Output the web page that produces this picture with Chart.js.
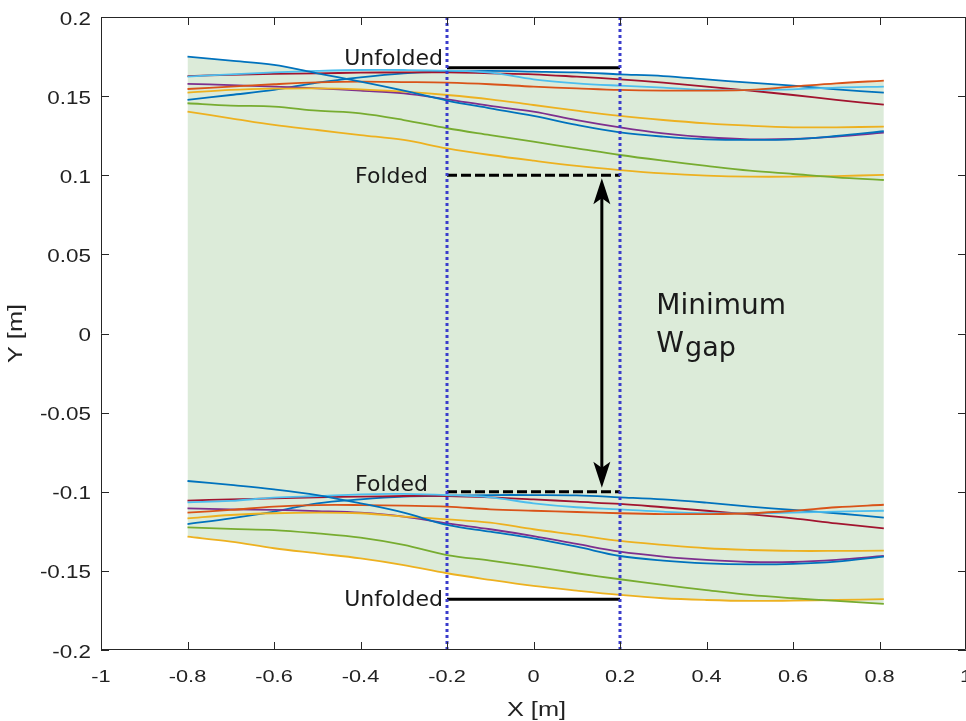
<!DOCTYPE html>
<html>
    <head>
        <title>Minimum Wgap</title>
        <script src="https://cdn.jsdelivr.net/npm/chart.js@4.4.1/dist/chart.umd.min.js"></script>
        <style>
            body { margin: 0; overflow: hidden; background: #fff; }
        </style>
    </head>
    <body>

    <canvas id="gapChart" width="966" height="721"></canvas>

    <script>
        // x positions along the strip, shared by every traced edge
        xPos = [-0.8, -0.7, -0.6, -0.5, -0.4, -0.3, -0.2, -0.1, 0, 0.1, 0.2, 0.3, 0.4, 0.5, 0.6, 0.7, 0.81];

        // upper edges
        topBlueA   = [0.1749, 0.1724, 0.1697, 0.1644, 0.1592, 0.1535, 0.1472, 0.1423, 0.1375, 0.1318, 0.1271, 0.1244, 0.1227, 0.1223, 0.1227, 0.1248, 0.1278];
        topPurple  = [0.1577, 0.1570, 0.1560, 0.1549, 0.1535, 0.1518, 0.1480, 0.1438, 0.1402, 0.1349, 0.1303, 0.1265, 0.1240, 0.1227, 0.1229, 0.1244, 0.1269];
        topBlueB   = [0.1476, 0.1507, 0.1539, 0.1585, 0.1619, 0.1644, 0.1655, 0.1659, 0.1655, 0.1650, 0.1638, 0.1627, 0.1606, 0.1585, 0.1566, 0.1543, 0.1522];
        topCyan    = [0.1623, 0.1638, 0.1650, 0.1659, 0.1665, 0.1665, 0.1661, 0.1648, 0.1606, 0.1581, 0.1566, 0.1554, 0.1539, 0.1539, 0.1543, 0.1554, 0.1560];
        topRed     = [0.1627, 0.1634, 0.1640, 0.1644, 0.1648, 0.1650, 0.1650, 0.1644, 0.1638, 0.1623, 0.1606, 0.1585, 0.1560, 0.1535, 0.1507, 0.1476, 0.1446];
        topOrange  = [0.1545, 0.1560, 0.1575, 0.1587, 0.1592, 0.1589, 0.1585, 0.1575, 0.1560, 0.1549, 0.1539, 0.1535, 0.1535, 0.1539, 0.1560, 0.1581, 0.1598];
        topYellowA = [0.1522, 0.1539, 0.1547, 0.1549, 0.1543, 0.1528, 0.1507, 0.1480, 0.1444, 0.1408, 0.1375, 0.1349, 0.1328, 0.1313, 0.1303, 0.1303, 0.1307];
        topGreen   = [0.1455, 0.1440, 0.1434, 0.1408, 0.1391, 0.1349, 0.1297, 0.1254, 0.1212, 0.1170, 0.1128, 0.1092, 0.1059, 0.1029, 0.1008, 0.0987, 0.0970];
        topYellowB = [0.1402, 0.1360, 0.1318, 0.1286, 0.1254, 0.1223, 0.1170, 0.1128, 0.1092, 0.1059, 0.1033, 0.1012, 0.0998, 0.0991, 0.0991, 0.0995, 0.1002];

        // lower edges
        botBlueA   = [-0.0932, -0.0957, -0.0985, -0.1021, -0.1073, -0.1132, -0.1210, -0.1252, -0.1294, -0.1347, -0.1406, -0.1435, -0.1452, -0.1459, -0.1456, -0.1442, -0.1410];
        botPurple  = [-0.1105, -0.1111, -0.1115, -0.1122, -0.1132, -0.1157, -0.1200, -0.1237, -0.1280, -0.1330, -0.1379, -0.1410, -0.1431, -0.1444, -0.1444, -0.1431, -0.1406];
        botBlueB   = [-0.1204, -0.1168, -0.1126, -0.1073, -0.1048, -0.1031, -0.1025, -0.1021, -0.1021, -0.1023, -0.1035, -0.1048, -0.1069, -0.1094, -0.1115, -0.1136, -0.1164];
        botCyan    = [-0.1067, -0.1058, -0.1037, -0.1027, -0.1016, -0.1014, -0.1021, -0.1035, -0.1073, -0.1098, -0.1111, -0.1126, -0.1136, -0.1136, -0.1132, -0.1126, -0.1120];
        botRed     = [-0.1056, -0.1048, -0.1042, -0.1035, -0.1031, -0.1027, -0.1027, -0.1035, -0.1048, -0.1063, -0.1077, -0.1098, -0.1120, -0.1143, -0.1168, -0.1200, -0.1231];
        botOrange  = [-0.1132, -0.1115, -0.1094, -0.1084, -0.1084, -0.1088, -0.1094, -0.1111, -0.1120, -0.1128, -0.1136, -0.1141, -0.1141, -0.1136, -0.1120, -0.1098, -0.1082];
        botYellowA = [-0.1168, -0.1147, -0.1136, -0.1132, -0.1136, -0.1157, -0.1174, -0.1195, -0.1237, -0.1273, -0.1311, -0.1336, -0.1357, -0.1368, -0.1374, -0.1374, -0.1372];
        botGreen   = [-0.1225, -0.1235, -0.1242, -0.1263, -0.1290, -0.1336, -0.1400, -0.1435, -0.1473, -0.1515, -0.1553, -0.1589, -0.1621, -0.1652, -0.1673, -0.1690, -0.1709];
        botYellowB = [-0.1284, -0.1315, -0.1357, -0.1389, -0.1421, -0.1463, -0.1515, -0.1557, -0.1595, -0.1625, -0.1652, -0.1673, -0.1684, -0.1690, -0.1688, -0.1684, -0.1678];

        // tick labels
        xTicks = [-1, -0.8, -0.6, -0.4, -0.2, 0, 0.2, 0.4, 0.6, 0.8, 1];
        yTicks = [-0.2, -0.15, -0.1, -0.05, 0, 0.05, 0.1, 0.15, 0.2];

        // reference levels
        gateX = [-0.2, 0.2];
        unfoldedLevel = 0.168;
        foldedLevel = 0.1;
        arrowX = 0.158;

        // matlab default colours
        mBlue = '#0072BD'; mOrange = '#D95319'; mYellow = '#EDB120'; mPurple = '#7E2F8E';
        mGreen = '#77AC30'; mCyan = '#4DBEEE'; mRed = '#A2142F';

        topSeries = [topBlueA, topOrange, topYellowA, topPurple, topGreen, topCyan, topRed, topBlueB, topYellowB];
        botSeries = [botBlueA, botOrange, botYellowA, botPurple, botGreen, botCyan, botRed, botBlueB, botYellowB];
        seriesColors = [mBlue, mOrange, mYellow, mPurple, mGreen, mCyan, mRed, mBlue, mYellow];

        envTop = xPos.map((x, i) => Math.max(...topSeries.map(s => s[i])));
        envBot = xPos.map((x, i) => Math.min(...botSeries.map(s => s[i])));

        function pts(arr) {
            return xPos.map((x, i) => ({x: x, y: arr[i]}));
        }

        datasets = [];
        datasets.push({data: pts(envTop), borderWidth: 0, pointRadius: 0, fill: '+1', backgroundColor: '#dcebd9', tension: 0.3, order: 100});
        datasets.push({data: pts(envBot), borderWidth: 0, pointRadius: 0, fill: false, tension: 0.3, order: 99});

        topSeries.forEach((s, k) => {
            datasets.push({data: pts(s), borderColor: seriesColors[k], borderWidth: 1.8, pointRadius: 0, fill: false, tension: 0.35, order: 20 + k});
        });
        botSeries.forEach((s, k) => {
            datasets.push({data: pts(s), borderColor: seriesColors[k], borderWidth: 1.8, pointRadius: 0, fill: false, tension: 0.35, order: 40 + k});
        });

        // unfolded / folded levels
        datasets.push({data: [{x: gateX[0], y: unfoldedLevel}, {x: gateX[1], y: unfoldedLevel}], borderColor: '#000', borderWidth: 3, pointRadius: 0, order: 5});
        datasets.push({data: [{x: gateX[0], y: -unfoldedLevel}, {x: gateX[1], y: -unfoldedLevel}], borderColor: '#000', borderWidth: 3, pointRadius: 0, order: 5});
        datasets.push({data: [{x: gateX[0], y: foldedLevel}, {x: gateX[1], y: foldedLevel}], borderColor: '#000', borderWidth: 3, borderDash: [10, 4], pointRadius: 0, order: 5});
        datasets.push({data: [{x: gateX[0], y: -foldedLevel}, {x: gateX[1], y: -foldedLevel}], borderColor: '#000', borderWidth: 3, borderDash: [10, 4], pointRadius: 0, order: 5});
        // arrow shaft
        datasets.push({data: [{x: arrowX, y: foldedLevel - 0.01}, {x: arrowX, y: -foldedLevel + 0.01}], borderColor: '#000', borderWidth: 3, pointRadius: 0, order: 4});
        // dotted gate lines
        gateX.forEach(g => {
            datasets.push({data: [{x: g, y: 0.2}, {x: g, y: -0.2}], borderColor: '#3a3ccc', borderWidth: 3, borderDash: [3, 3], pointRadius: 0, order: 1});
        });

        function stretchText(ctx, text, x, y, sx) {
            ctx.save();
            ctx.translate(x, y);
            ctx.scale(sx, 1);
            ctx.fillText(text, 0, 0);
            ctx.restore();
        }

        decorPlugin = {
            id: 'decor',
            afterDraw(chart) {
                const ctx = chart.ctx;
                const xs = chart.scales.x, ys = chart.scales.y;
                const a = chart.chartArea;
                ctx.save();

                // arrow heads
                ctx.fillStyle = '#000';
                const ax = xs.getPixelForValue(arrowX);
                const t1 = ys.getPixelForValue(foldedLevel) + 3;
                const t2 = ys.getPixelForValue(-foldedLevel) - 4;
                ctx.beginPath();
                ctx.moveTo(ax, t1); ctx.lineTo(ax - 8.5, t1 + 26); ctx.lineTo(ax, t1 + 20); ctx.lineTo(ax + 8.5, t1 + 26);
                ctx.closePath(); ctx.fill();
                ctx.beginPath();
                ctx.moveTo(ax, t2); ctx.lineTo(ax - 8.5, t2 - 26); ctx.lineTo(ax, t2 - 20); ctx.lineTo(ax + 8.5, t2 - 26);
                ctx.closePath(); ctx.fill();

                // level labels
                ctx.fillStyle = '#1a1a1a';
                ctx.font = '22px "DejaVu Sans"';
                ctx.textAlign = 'right';
                ctx.textBaseline = 'alphabetic';
                const gx = xs.getPixelForValue(gateX[0]) - 5;
                ctx.fillText('Unfolded', gx + 1, ys.getPixelForValue(unfoldedLevel) - 3);
                ctx.fillText('Folded', gx - 14, ys.getPixelForValue(foldedLevel) + 8);
                ctx.fillText('Folded', gx - 14, ys.getPixelForValue(-foldedLevel) - 1);
                ctx.fillText('Unfolded', gx + 1, ys.getPixelForValue(-unfoldedLevel) + 7);

                // gap label
                ctx.textAlign = 'left';
                ctx.font = '28px "DejaVu Sans"';
                ctx.fillText('Minimum', xs.getPixelForValue(0.284), ys.getPixelForValue(0.0123));
                ctx.fillText('W', xs.getPixelForValue(0.284), ys.getPixelForValue(-0.0117));
                const wW = ctx.measureText('W').width;
                ctx.font = '27px "DejaVu Sans"';
                ctx.fillText('gap', xs.getPixelForValue(0.284) + wW + 1, ys.getPixelForValue(-0.0117) + 4);

                // axes box and inward ticks
                ctx.strokeStyle = '#262626';
                ctx.lineWidth = 1;
                ctx.beginPath();
                ctx.moveTo(a.left + 0.5, a.top + 0.5);
                ctx.lineTo(a.right - 0.5, a.top + 0.5);
                ctx.lineTo(a.right - 0.5, a.bottom - 0.5);
                ctx.lineTo(a.left + 0.5, a.bottom - 0.5);
                ctx.closePath();
                ctx.stroke();
                ctx.beginPath();
                xTicks.forEach(v => {
                    const p = Math.round(xs.getPixelForValue(v)) + 0.5;
                    ctx.moveTo(p, a.bottom); ctx.lineTo(p, a.bottom - 8);
                    ctx.moveTo(p, a.top); ctx.lineTo(p, a.top + 8);
                });
                yTicks.forEach(v => {
                    const p = Math.round(ys.getPixelForValue(v)) + 0.5;
                    ctx.moveTo(a.left, p); ctx.lineTo(a.left + 8, p);
                    ctx.moveTo(a.right, p); ctx.lineTo(a.right - 8, p);
                });
                ctx.stroke();

                // tick labels
                ctx.fillStyle = '#222';
                ctx.font = '17px "Liberation Sans"';
                ctx.textAlign = 'center';
                xTicks.forEach(v => {
                    stretchText(ctx, String(+v.toFixed(1)), xs.getPixelForValue(v), a.bottom + 32, 1.28);
                });
                ctx.font = '19px "Liberation Sans"';
                ctx.textAlign = 'right';
                yTicks.forEach(v => {
                    stretchText(ctx, String(+v.toFixed(2)), a.left - 10, ys.getPixelForValue(v) + 7.5, 1.18);
                });

                // axis titles
                ctx.font = '19.5px "Liberation Sans"';
                ctx.textAlign = 'center';
                stretchText(ctx, 'X [m]', (a.left + a.right) / 2 + 3, 716, 1.3);
                ctx.save();
                ctx.translate(22, (a.top + a.bottom) / 2);
                ctx.rotate(-Math.PI / 2);
                stretchText(ctx, 'Y [m]', 0, 0, 1.3);
                ctx.restore();

                ctx.restore();
            }
        };

        gapChart = new Chart(document.getElementById('gapChart'), {
            type: 'line',
            data: {datasets: datasets},
            options: {
                responsive: false,
                animation: false,
                layout: {padding: {top: 17, right: 0, left: 0, bottom: 0}},
                plugins: {legend: {display: false}, tooltip: {enabled: false}},
                scales: {
                    x: {
                        type: 'linear', min: -1, max: 1,
                        afterBuildTicks: s => { s.ticks = xTicks.map(v => ({value: v})); },
                        afterFit: s => { s.height = 71; },
                        ticks: {display: false},
                        grid: {display: false, drawTicks: false},
                        border: {display: false}
                    },
                    y: {
                        type: 'linear', min: -0.2, max: 0.2,
                        afterBuildTicks: s => { s.ticks = yTicks.map(v => ({value: v})); },
                        afterFit: s => { s.width = 101; },
                        ticks: {display: false},
                        grid: {display: false, drawTicks: false},
                        border: {display: false}
                    }
                }
            },
            plugins: [decorPlugin]
        });
    </script>
    </body>
</html>
